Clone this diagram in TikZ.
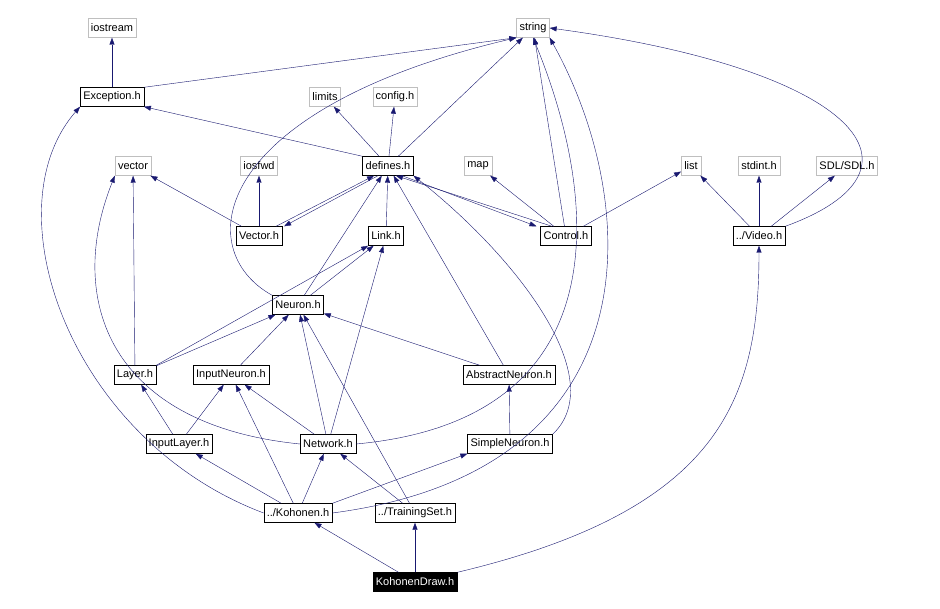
\documentclass[tikz,border=0pt]{standalone}
\usepackage{fontspec}
\setmainfont{Liberation Sans}
\usetikzlibrary{arrows.meta}
\definecolor{edgeblue}{HTML}{191970}
\definecolor{extgray}{HTML}{BFBFBF}
\tikzset{
  hdr/.style={draw=black, fill=white, inner xsep=3pt, inner ysep=2pt, minimum height=19pt, font=\fontsize{11}{12}\selectfont},
  ext/.style={hdr, draw=extgray},
  top/.style={hdr, fill=black, text=white},
  dep/.style={draw=edgeblue, -{Triangle[length=7pt,width=5pt]}}
}
\begin{document}
\begin{tikzpicture}[x=1pt,y=-1pt]
            \useasboundingbox (0,0) rectangle (940,609);
            % headers
            \node[ext] (iostream) at (112,28) {iostream};
            \node[ext] (string) at (533,28) {string};
            \node[hdr] (exception) at (112,97) {Exception.h};
            \node[ext] (limits) at (325,97) {limits};
            \node[ext] (config) at (395,97) {config.h};
            \node[ext] (vectorstd) at (133,166) {vector};
            \node[ext] (iosfwd) at (259,166) {iosfwd};
            \node[hdr] (defines) at (388,166) {defines.h};
            \node[ext] (map) at (478,166) {map};
            \node[ext] (list) at (691,166) {list};
            \node[ext] (stdint) at (759,166) {stdint.h};
            \node[ext] (sdl) at (847,166) {SDL/SDL.h};
            \node[hdr] (vector) at (259,236) {Vector.h};
            \node[hdr] (link) at (386,236) {Link.h};
            \node[hdr] (control) at (566,236) {Control.h};
            \node[hdr] (video) at (759,236) {../Video.h};
            \node[hdr] (neuron) at (298,305) {Neuron.h};
            \node[hdr] (layer) at (135,375) {Layer.h};
            \node[hdr] (inputneuron) at (231,375) {InputNeuron.h};
            \node[hdr] (abstract) at (509,375) {AbstractNeuron.h};
            \node[hdr] (inputlayer) at (179,444) {InputLayer.h};
            \node[hdr] (network) at (328,444) {Network.h};
            \node[hdr] (simple) at (510,444) {SimpleNeuron.h};
            \node[hdr] (kohonen) at (298,513) {../Kohonen.h};
            \node[hdr] (training) at (415,513) {../TrainingSet.h};
            \node[top] (draw) at (415,582) {KohonenDraw.h};
            % includes
            \draw[dep] (exception) -- (iostream);
            \draw[dep] (exception.north east) -- (string.south west);
            \draw[dep] (defines.north west) -- (exception.south east);
            \draw[dep] (defines) -- (limits);
            \draw[dep] (defines) -- (config);
            \draw[dep] (defines) -- (string);
            \draw[dep] ([xshift=-6pt]vector.north east) -- ([xshift=-14pt]defines.south);
            \draw[dep] ([xshift=-10pt]defines.south) -- ([xshift=2pt]vector.north east);
            \draw[dep] (vector) -- (vectorstd);
            \draw[dep] (vector) -- (iosfwd);
            \draw[dep] ([xshift=-14pt]control.north) -- ([xshift=8pt]defines.south);
            \draw[dep] ([xshift=14pt]defines.south) -- ([xshift=-4pt]control.north west);
            \draw[dep] (control) -- (map);
            \draw[dep] (control) -- (list);
            \draw[dep] (control) -- (string);
            \draw[dep] (link) -- (defines);
            \draw[dep] (neuron) -- (defines);
            \draw[dep] (neuron) -- (link);
            \draw[dep] (neuron.north west) .. controls (190,250) and (210,110) .. (string.south west);
            \draw[dep] (layer) -- (vectorstd);
            \draw[dep] (layer) -- (neuron);
            \draw[dep] (layer.north east) -- (link.south west);
            \draw[dep] (inputneuron) -- (neuron);
            \draw[dep] (abstract) -- (defines);
            \draw[dep] (abstract) -- (neuron);
            \draw[dep] (inputlayer) -- (layer);
            \draw[dep] (inputlayer) -- (inputneuron);
            \draw[dep] (network) -- (inputneuron);
            \draw[dep] (network) -- (neuron);
            \draw[dep] (network) -- (link);
            \draw[dep] (network.west) .. controls (110,425) and (65,300) .. (vectorstd.south west);
            \draw[dep] (network.east) .. controls (620,420) and (600,200) .. (string.south);
            \draw[dep] (simple) -- (abstract);
            \draw[dep] (simple.north east) .. controls (610,380) and (520,260) .. (defines.south east);
            \draw[dep] (kohonen.west) .. controls (70,440) and (-10,210) .. (exception.south west);
            \draw[dep] (kohonen) -- (inputlayer);
            \draw[dep] (kohonen) -- (inputneuron);
            \draw[dep] (kohonen) -- (network);
            \draw[dep] (kohonen.north east) -- (simple.south west);
            \draw[dep] (kohonen.east) .. controls (660,470) and (640,200) .. (string.south east);
            \draw[dep] (training) -- (network);
            \draw[dep] (training) -- (neuron);
            \draw[dep] (video) -- (list);
            \draw[dep] (video) -- (stdint);
            \draw[dep] (video) -- (sdl);
            \draw[dep] (video.north east) .. controls (940,170) and (860,70) .. (string.east);
            \draw[dep] (draw) -- (kohonen);
            \draw[dep] (draw) -- (training);
            \draw[dep] (draw.north east) .. controls (720,510) and (759,400) .. (video.south);
\end{tikzpicture}
\end{document}
